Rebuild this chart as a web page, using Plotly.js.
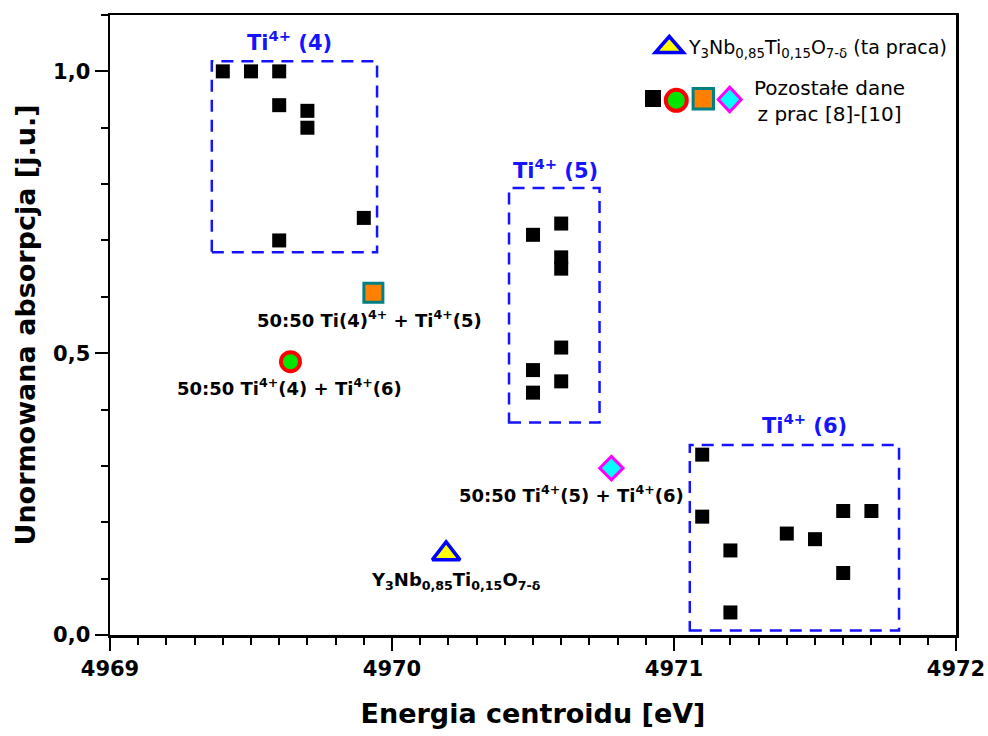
<!DOCTYPE html>
<html>
<head>
<meta charset="utf-8">
<script src="https://cdn.plot.ly/plotly-3.0.1.min.js"></script>
<style>html,body{margin:0;padding:0;background:#fff;}#chart{width:988px;height:736px;}</style>
</head>
<body>
<div id="chart"></div>
<script>
// Reference data from literature (black squares): Ti4+(4), Ti4+(5), Ti4+(6)
const refEnergy = [4969.40, 4969.50, 4969.60, 4969.60, 4969.70, 4969.70, 4969.60, 4969.90,
                   4970.50, 4970.60, 4970.60, 4970.60, 4970.50, 4970.60, 4970.50, 4970.60,
                   4971.10, 4971.10, 4971.20, 4971.20, 4971.40, 4971.50, 4971.60, 4971.70, 4971.60];
const refAbsorb = [1.00, 1.00, 1.00, 0.94, 0.93, 0.90, 0.70, 0.74,
                   0.71, 0.73, 0.67, 0.65, 0.47, 0.51, 0.43, 0.45,
                   0.32, 0.21, 0.15, 0.04, 0.18, 0.17, 0.22, 0.22, 0.11];
// 50:50 mixtures
const mix46Energy = [4969.64];  const mix46Absorb = [0.485];
const mix45Energy = [4969.934]; const mix45Absorb = [0.607];
const mix56Energy = [4970.778]; const mix56Absorb = [0.296];
// This work
const sampleEnergy = [4970.192]; const sampleAbsorb = [0.144];

const xTickVals = [4969, 4970, 4971, 4972];
const yTickVals = [0, 0.5, 1.0];

const FONT = 'DejaVu Sans';
const BLUE = '#1414ff';

const traces = [
  {x: refEnergy, y: refAbsorb, type: 'scatter', mode: 'markers',
   marker: {symbol: 'square', size: 14, color: '#000', line: {width: 0}}},
  {x: mix46Energy, y: mix46Absorb, type: 'scatter', mode: 'markers',
   marker: {symbol: 'circle', size: 19, color: '#00e600', line: {width: 4, color: '#ff0000'}}},
  {x: mix45Energy, y: mix45Absorb, type: 'scatter', mode: 'markers',
   marker: {symbol: 'square', size: 19, color: '#ff8000', line: {width: 3, color: '#008080'}}},
  {x: mix56Energy, y: mix56Absorb, type: 'scatter', mode: 'markers',
   marker: {symbol: 'diamond', size: 18, color: '#00ffff', line: {width: 3, color: '#ff00ff'}}},
  {x: sampleEnergy, y: sampleAbsorb, type: 'scatter', mode: 'markers',
   marker: {symbol: 'triangle-up', size: 24, color: '#ffff00', line: {width: 3.5, color: '#0000ff'}}}
];

const px = v => (v - 110) / 846;   // paper x from pixel
const py = v => (635 - v) / 620;   // paper y from pixel

function box(x0, x1, y0, y1) {
  return {type: 'rect', xref: 'x', yref: 'y', x0: x0, x1: x1, y0: y0, y1: y1,
          line: {color: BLUE, width: 2.5, dash: '12px,8px'}, fillcolor: 'rgba(0,0,0,0)'};
}

const shapes = [
  box(4969.361, 4969.947, 0.679, 1.018),
  box(4970.415, 4970.736, 0.377, 0.793),
  box(4971.056, 4971.798, 0.008, 0.337),
  // legend keys
  {type: 'path', xref: 'paper', yref: 'paper', xsizemode: 'pixel', ysizemode: 'pixel',
   xanchor: px(669.3), yanchor: py(45),
   path: 'M-14,-7.5 L14,-7.5 L0,8.5 Z', fillcolor: '#ffff00', line: {color: '#0000ff', width: 3.5}},
  {type: 'rect', xref: 'paper', yref: 'paper', xsizemode: 'pixel', ysizemode: 'pixel',
   xanchor: px(653), yanchor: py(98.5), x0: -8, x1: 8, y0: -8.5, y1: 8.5,
   fillcolor: '#000', line: {width: 0}},
  {type: 'circle', xref: 'paper', yref: 'paper', xsizemode: 'pixel', ysizemode: 'pixel',
   xanchor: px(676.3), yanchor: py(100.3), x0: -10.5, x1: 10.5, y0: -10.5, y1: 10.5,
   fillcolor: '#00e600', line: {color: '#ff0000', width: 4}},
  {type: 'rect', xref: 'paper', yref: 'paper', xsizemode: 'pixel', ysizemode: 'pixel',
   xanchor: px(703.3), yanchor: py(98.7), x0: -10.2, x1: 10.2, y0: -10.2, y1: 10.2,
   fillcolor: '#ff8000', line: {color: '#008080', width: 3}},
  {type: 'path', xref: 'paper', yref: 'paper', xsizemode: 'pixel', ysizemode: 'pixel',
   xanchor: px(729.7), yanchor: py(99.5),
   path: 'M-11.5,0 L0,12.3 L11.5,0 L0,-12.3 Z', fillcolor: '#00ffff', line: {color: '#ff00ff', width: 3}}
];

const blackLbl = {family: FONT, size: 18, color: '#000', weight: 'bold'};
const blueLbl = {family: FONT, size: 21, color: BLUE, weight: 'bold'};

const annotations = [
  {xref: 'x', yref: 'y', x: 4969.635, y: 1.053, text: 'Ti<sup>4+</sup> (4)', showarrow: false, font: blueLbl},
  {xref: 'x', yref: 'y', x: 4970.578, y: 0.826, text: 'Ti<sup>4+</sup> (5)', showarrow: false, font: blueLbl},
  {xref: 'x', yref: 'y', x: 4971.461, y: 0.374, text: 'Ti<sup>4+</sup> (6)', showarrow: false, font: blueLbl},
  {xref: 'x', yref: 'y', x: 4969.919, y: 0.560, text: '50:50 Ti(4)<sup>4+</sup> + Ti<sup>4+</sup>(5)', showarrow: false, font: blackLbl},
  {xref: 'x', yref: 'y', x: 4969.635, y: 0.440, text: '50:50 Ti<sup>4+</sup>(4) + Ti<sup>4+</sup>(6)', showarrow: false, font: blackLbl},
  {xref: 'x', yref: 'y', x: 4971.041, y: 0.251, xanchor: 'right', text: '50:50 Ti<sup>4+</sup>(5) + Ti<sup>4+</sup>(6)', showarrow: false, font: blackLbl},
  {xref: 'x', yref: 'y', x: 4970.226, y: 0.095, text: 'Y<sub>3</sub>Nb<sub>0,85</sub>Ti<sub>0,15</sub>O<sub>7-δ</sub>', showarrow: false, font: blackLbl},
  {xref: 'paper', yref: 'paper', x: px(685.5), y: py(49), xanchor: 'left', yanchor: 'middle',
   text: 'Y<sub>3</sub>Nb<sub>0,85</sub>Ti<sub>0,15</sub>O<sub>7-δ</sub> (ta praca)', showarrow: false,
   font: {family: FONT, size: 19, color: '#000'}},
  {xref: 'paper', yref: 'paper', x: px(829), y: py(101), xanchor: 'center', yanchor: 'middle', align: 'center',
   text: 'Pozostałe dane<br>z prac [8]-[10]', showarrow: false,
   font: {family: FONT, size: 20, color: '#000'}}
];

const layout = {
  width: 988, height: 736,
  margin: {l: 110, r: 32, t: 15, b: 101},
  paper_bgcolor: '#fff', plot_bgcolor: '#fff',
  showlegend: false,
  separators: ', ',
  font: {family: FONT, color: '#000'},
  xaxis: {
    range: [4969, 4972], tickvals: xTickVals, tickformat: 'd',
    ticks: 'outside', ticklen: 13, tickwidth: 2, tickcolor: '#000',
    minor: {dtick: 0.1, tick0: 4969, ticks: 'outside', ticklen: 7, tickwidth: 2, tickcolor: '#000', showgrid: false},
    showline: true, linewidth: 2.5, linecolor: '#000', mirror: true,
    showgrid: false, zeroline: false,
    tickfont: {family: FONT, size: 21, color: '#000', weight: 'bold'},
    title: {text: 'Energia centroidu [eV]', standoff: 25,
            font: {family: FONT, size: 27, color: '#000', weight: 'bold'}},
    automargin: 'height'
  },
  xaxis2: {
    overlaying: 'x', side: 'top', anchor: 'y', matches: 'x', range: [4969, 4972],
    tick0: 4969, dtick: 0.1, ticks: 'inside', ticklen: 7, tickwidth: 2, tickcolor: '#000',
    showticklabels: false, showline: false, showgrid: false, zeroline: false
  },
  yaxis: {
    range: [0, 1.1], tickvals: yTickVals, tickformat: '.1f',
    ticks: 'outside', ticklen: 13, tickwidth: 2, tickcolor: '#000',
    minor: {dtick: 0.1, tick0: 0, ticks: 'outside', ticklen: 7, tickwidth: 2, tickcolor: '#000', showgrid: false},
    showline: true, linewidth: 2.5, linecolor: '#000', mirror: true,
    showgrid: false, zeroline: false,
    tickfont: {family: FONT, size: 21, color: '#000', weight: 'bold'},
    title: {text: 'Unormowana absorpcja [j.u.]', standoff: 10,
            font: {family: FONT, size: 27, color: '#000', weight: 'bold'}},
    automargin: 'width'
  },
  shapes: shapes,
  annotations: annotations
};

Plotly.newPlot('chart', traces, layout, {displayModeBar: false, staticPlot: true});
</script>
</body>
</html>
